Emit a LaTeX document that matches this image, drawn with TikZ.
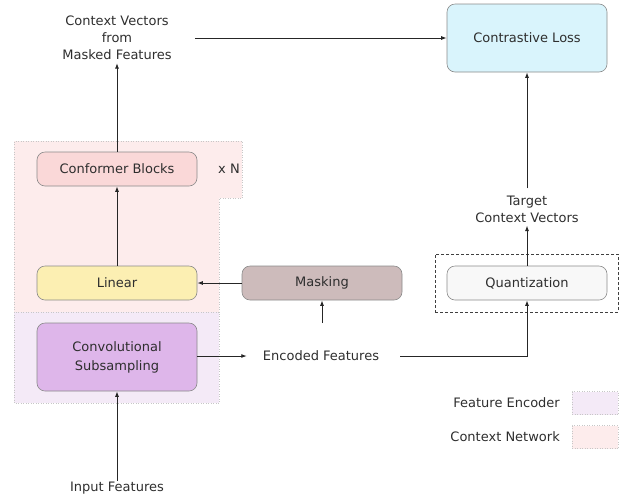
\documentclass[tikz,border=0pt]{standalone}
\usepackage{fontspec}
\setmainfont{DejaVu Sans}
\usetikzlibrary{arrows.meta}
\definecolor{txt}{HTML}{2E2E2E}
\definecolor{edge}{HTML}{8A8A8A}
\definecolor{ctxbg}{HTML}{FDECEC}
\definecolor{encbg}{HTML}{F4EAF7}
\definecolor{confc}{HTML}{FAD8D8}
\definecolor{linc}{HTML}{FCEFB2}
\definecolor{convc}{HTML}{DEB6EA}
\definecolor{maskc}{HTML}{CDBBBB}
\definecolor{quantc}{HTML}{F8F8F8}
\definecolor{lossc}{HTML}{D9F4FC}
\tikzset{
  blockbox/.style={draw=edge, rounded corners=8pt, minimum width=160pt, text=txt, font=\fontsize{13}{16}\selectfont, line width=0.6pt},
  label/.style={text=txt, font=\fontsize{13}{17}\selectfont, align=center, inner sep=1pt},
  region/.style={draw=black!22, dotted, line width=0.5pt},
  conn/.style={draw=black!85, line width=0.9pt, -{Latex[length=5.5pt,width=4pt]}},
}
\begin{document}
\begin{tikzpicture}[x=1pt,y=-1pt]
\useasboundingbox (0,0) rectangle (628,499);
% background regions: context network (with notch) and feature encoder
\fill[ctxbg] (14,141) -- (242,141) -- (242,198) -- (219,198) -- (219,312) -- (14,312) -- cycle;
\draw[region] (14,312) -- (14,141) -- (242,141) -- (242,198) -- (219,198) -- (219,312);
\fill[encbg] (14,312) rectangle (219,403);
\draw[region] (14,312) rectangle (219,403);

% blocks
\node[blockbox, fill=confc, minimum height=34pt] (conf) at (117,169) {Conformer Blocks};
\node[label] (xn) at (229,169) {x N};
\node[blockbox, fill=linc, minimum height=34pt] (lin) at (117,283) {Linear};
\node[blockbox, fill=convc, minimum height=68pt, align=center, font=\fontsize{13}{19}\selectfont] (conv) at (117,357) {Convolutional\\Subsampling};
\node[blockbox, fill=maskc, minimum height=34pt] (mask) at (322,283) {Masking};
\node[draw=black!75, densely dashed, line width=0.8pt, minimum width=183pt, minimum height=58pt, inner sep=0pt] (qbox) at (526.5,283) {};
\node[blockbox, fill=quantc, minimum height=34pt] (quant) at (527,283) {Quantization};
\node[blockbox, fill=lossc, minimum height=68pt] (loss) at (527,38) {Contrastive Loss};

% text labels
\node[label] (ctxv) at (117,38) {Context Vectors\\from\\Masked Features};
\node[label] (tgt) at (527,209) {Target\\Context Vectors};
\node[label] (enc) at (321,356) {Encoded Features};
\node[label] (inp) at (117,488) {Input Features};
\coordinate (maskin) at (322,323);

% legend
\node[label, anchor=east] (legenc) at (561,403) {Feature Encoder};
\node[label, anchor=east] (legctx) at (561,437) {Context Network};
\node[region, fill=encbg, minimum width=46pt, minimum height=23pt, inner sep=0pt] (boxenc) at (595,403) {};
\node[region, fill=ctxbg, minimum width=46pt, minimum height=23pt, inner sep=0pt] (boxctx) at (595,437) {};

% connectors
\draw[conn] (inp.north) -- (conv.south);
\draw[conn] (lin.north) -- (conf.north |- conf.south);
\draw[conn] (conf.north) -- ([yshift=-2pt]ctxv.south);
\draw[conn, shorten <=22pt] (ctxv.east) -- (loss.west |- ctxv.east);
\draw[conn] (mask.west) -- (lin.east);
\draw[conn] (maskin) -- (mask.south);
\draw[conn, shorten >=15pt] (conv.east |- enc.west) -- (enc.west);
\draw[conn, shorten <=20pt] (enc.east) -- (quant.south |- enc.east) -- (quant.south);
\draw[conn] (quant.north) -- ([yshift=-2pt]tgt.south);
\draw[conn, shorten <=6pt] (tgt.north) -- (loss.south);
\end{tikzpicture}
\end{document}
